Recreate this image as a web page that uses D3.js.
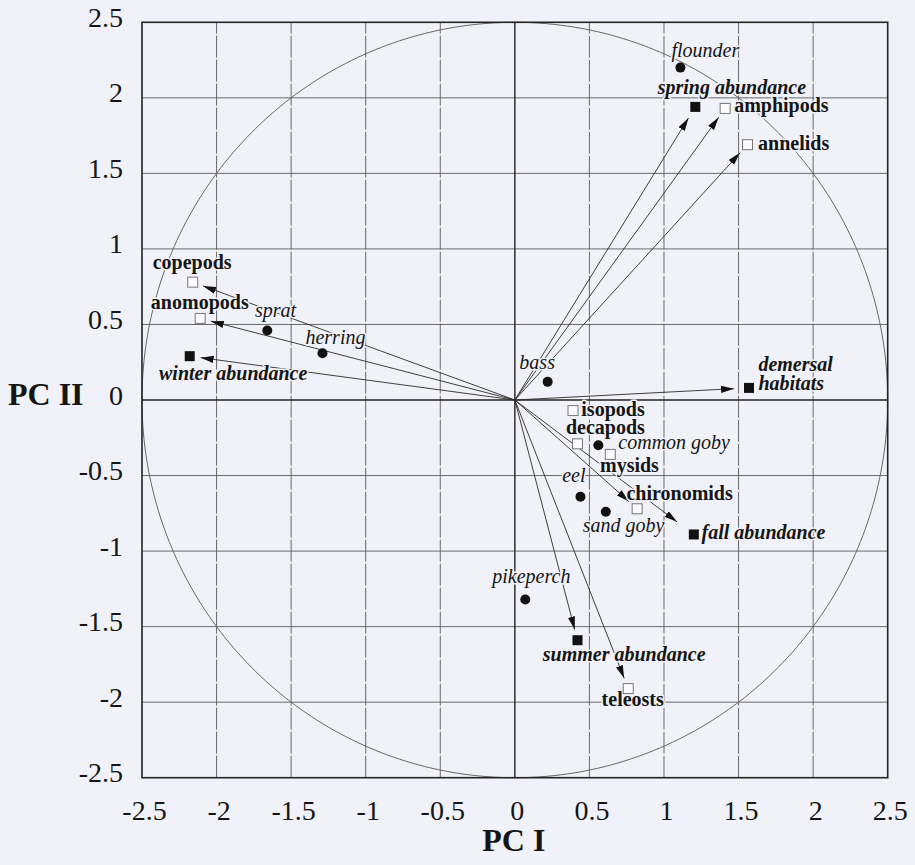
<!DOCTYPE html>
<html>
<head>
<meta charset="utf-8">
<script src="https://cdn.jsdelivr.net/npm/d3@7/dist/d3.min.js"></script>
<style>
  html, body { margin: 0; padding: 0; background: #f1f2f9; }
  svg { display: block; }
  text { font-family: "Liberation Serif", "Times New Roman", serif; fill: #151515; }
</style>
</head>
<body>
<svg id="chart" width="915" height="865"></svg>
<script>
// Variables of the PCA biplot (scores on PC I and PC II)
const names = [
  "copepods", "anomopods", "sprat", "herring", "winter abundance",
  "flounder", "spring abundance", "amphipods", "annelids", "bass",
  "demersal habitats", "isopods", "decapods", "common goby", "mysids",
  "eel", "chironomids", "sand goby", "fall abundance", "pikeperch",
  "summer abundance", "teleosts"
];
const pc1 = [
  -2.16, -2.11, -1.66, -1.29, -2.18,
   1.11,  1.21,  1.41,  1.56,  0.22,
   1.57,  0.39,  0.42,  0.56,  0.64,
   0.44,  0.82,  0.61,  1.20,  0.07,
   0.42,  0.76
];
const pc2 = [
   0.78,  0.54,  0.46,  0.31,  0.29,
   2.20,  1.94,  1.93,  1.69,  0.12,
   0.08, -0.07, -0.29, -0.30, -0.36,
  -0.64, -0.72, -0.74, -0.89, -1.32,
  -1.59, -1.91
];
// fish = species (filled circle), prey = diet item (open square), env = abundance / habitat (filled square)
const kinds = [
  "prey", "prey", "fish", "fish", "env",
  "fish", "env", "prey", "prey", "fish",
  "env", "prey", "prey", "fish", "prey",
  "fish", "prey", "fish", "env", "fish",
  "env", "prey"
];
// Variables drawn as vectors from the origin
const vectors = [
  "copepods", "anomopods", "winter abundance", "spring abundance", "amphipods",
  "annelids", "demersal habitats", "chironomids", "fall abundance",
  "summer abundance", "teleosts"
];
const tickValues = [-2.5, -2, -1.5, -1, -0.5, 0, 0.5, 1, 1.5, 2, 2.5];
const tickLabels = ["-2.5", "-2", "-1.5", "-1", "-0.5", "0", "0.5", "1", "1.5", "2", "2.5"];
const axisTitles = { x: "PC I", y: "PC II" };
const circleRadius = 2.5;

// Label placement (pixel offsets from the marker, baseline of first line)
const labelPlacement = {
  "copepods": [-40, -12.7], "anomopods": [-49.3, -9], "sprat": [-12.3, -13.3],
  "herring": [-17, -9], "winter abundance": [-30.7, 24], "flounder": [-9, -11],
  "spring abundance": [-37.6, -13.4], "amphipods": [9, 3.4], "annelids": [10.6, 5.7],
  "bass": [-28.3, -13], "demersal habitats": [9.4, -17.3], "isopods": [8.3, 5.3],
  "decapods": [-11.5, -9.4], "common goby": [20, 3.3], "mysids": [-10.3, 17.7],
  "eel": [-18.3, -14.3], "chironomids": [-10.7, -9], "sand goby": [-23, 20],
  "fall abundance": [7.7, 4.3], "pikeperch": [-33, -16.3], "summer abundance": [-34.7, 21],
  "teleosts": [-26.6, 17.7]
};
const arrowGap = { "fall abundance": 21, "demersal habitats": 15, "spring abundance": 13 };

const svg = d3.select("#chart");
const bg = "#f1f2f9";

const x = d3.scaleLinear().domain([-2.5, 2.5]).range([142, 887.7]);
const y = d3.scaleLinear().domain([-2.5, 2.5]).range([777.7, 22.3]);

// grid
const inner = tickValues.filter(v => v !== 0 && Math.abs(v) < 2.5);
const grid = svg.append("g");
grid.selectAll("line.h").data(inner).join("line")
  .attr("x1", x(-2.5)).attr("x2", x(2.5))
  .attr("y1", d => y(d)).attr("y2", d => y(d))
  .attr("stroke", "#5a5a5a").attr("stroke-width", 0.9);
grid.selectAll("line.v").data(inner).join("line")
  .attr("y1", y(-2.5)).attr("y2", y(2.5))
  .attr("x1", d => x(d)).attr("x2", d => x(d))
  .attr("stroke", "#5a5a5a").attr("stroke-width", 0.9)
  .attr("stroke-dasharray", "22,2");

// zero axes
svg.append("line").attr("x1", x(-2.5)).attr("x2", x(2.5)).attr("y1", y(0)).attr("y2", y(0))
  .attr("stroke", "#222").attr("stroke-width", 1.4);
svg.append("line").attr("y1", y(-2.5)).attr("y2", y(2.5)).attr("x1", x(0)).attr("x2", x(0))
  .attr("stroke", "#222").attr("stroke-width", 1.4);

// correlation circle
const angles = d3.range(0, 361, 1).map(a => a * Math.PI / 180);
svg.append("path")
  .attr("d", d3.line().x(a => x(circleRadius * Math.cos(a))).y(a => y(circleRadius * Math.sin(a)))(angles))
  .attr("fill", "none").attr("stroke", "#666").attr("stroke-width", 1);

// frame
svg.append("rect").attr("x", x(-2.5)).attr("y", y(2.5))
  .attr("width", x(2.5) - x(-2.5)).attr("height", y(-2.5) - y(2.5))
  .attr("fill", "none").attr("stroke", "#222").attr("stroke-width", 1.6);

// axes with tick labels
const fmt = d => tickLabels[tickValues.indexOf(d)];
const xAxis = svg.append("g").attr("transform", `translate(0,${y(-2.5)})`)
  .call(d3.axisBottom(x).tickValues(tickValues).tickFormat(fmt).tickSize(0).tickPadding(0));
xAxis.select(".domain").remove();
xAxis.selectAll("text").attr("font-size", 28).attr("dy", null).attr("y", 42).attr("dx", 2)
  .style("font-family", "Liberation Serif").attr("fill", "#151515");

const yAxis = svg.append("g").attr("transform", `translate(${x(-2.5)},0)`)
  .call(d3.axisLeft(y).tickValues(tickValues).tickFormat(fmt).tickSize(0).tickPadding(0));
yAxis.select(".domain").remove();
yAxis.selectAll("text").attr("font-size", 28).attr("dy", null).attr("x", -19).attr("y", 4)
  .style("font-family", "Liberation Serif").attr("fill", "#151515");

svg.append("text").attr("x", x(0) - 1).attr("y", 851).attr("text-anchor", "middle")
  .attr("font-size", 32).attr("font-weight", "bold").text(axisTitles.x);
svg.append("text").attr("x", 8).attr("y", 405)
  .attr("font-size", 32).attr("font-weight", "bold").text(axisTitles.y);

// arrowhead
svg.append("defs").append("marker")
  .attr("id", "head").attr("markerUnits", "userSpaceOnUse")
  .attr("viewBox", "0 -4 13 8").attr("refX", 13).attr("refY", 0)
  .attr("markerWidth", 13).attr("markerHeight", 8).attr("orient", "auto")
  .append("path").attr("d", "M0,-3.6L13,0L0,3.6Z").attr("fill", "#111");

const items = names.map((n, i) => ({ name: n, px: pc1[i], py: pc2[i], kind: kinds[i] }));

// vectors from the origin
svg.append("g").selectAll("line").data(items.filter(d => vectors.includes(d.name))).join("line")
  .each(function (d) {
    const x0 = x(0), y0 = y(0), x1 = x(d.px), y1 = y(d.py);
    const len = Math.hypot(x1 - x0, y1 - y0);
    const gap = arrowGap[d.name] || 11;
    const k = (len - gap) / len;
    d3.select(this)
      .attr("x1", x0).attr("y1", y0)
      .attr("x2", x0 + (x1 - x0) * k).attr("y2", y0 + (y1 - y0) * k);
  })
  .attr("stroke", "#2a2a2a").attr("stroke-width", 0.9)
  .attr("marker-end", "url(#head)");

// labels
const labels = svg.append("g");
items.forEach(d => {
  const [dx, dy] = labelPlacement[d.name];
  const t = labels.append("text")
    .attr("x", x(d.px) + dx).attr("y", y(d.py) + dy)
    .attr("font-size", 20)
    .attr("font-weight", d.kind === "fish" ? "normal" : "bold")
    .attr("font-style", d.kind === "prey" ? "normal" : "italic")
    .attr("stroke", bg).attr("stroke-width", 3).attr("paint-order", "stroke")
    .attr("stroke-linejoin", "round");
  if (d.name === "demersal habitats") {
    t.append("tspan").attr("x", x(d.px) + dx).text("demersal");
    t.append("tspan").attr("x", x(d.px) + dx).attr("dy", 19.3).text("habitats");
  } else {
    t.text(d.name);
  }
});

// markers
const marks = svg.append("g");
items.forEach(d => {
  const cx = x(d.px), cy = y(d.py);
  if (d.kind === "fish") {
    marks.append("circle").attr("cx", cx).attr("cy", cy).attr("r", 5).attr("fill", "#111");
  } else if (d.kind === "env") {
    marks.append("rect").attr("x", cx - 5).attr("y", cy - 5).attr("width", 10).attr("height", 10)
      .attr("fill", "#111");
  } else {
    marks.append("rect").attr("x", cx - 5).attr("y", cy - 5).attr("width", 10).attr("height", 10)
      .attr("fill", "#fbfbff").attr("stroke", "#777").attr("stroke-width", 1);
  }
});
</script>
</body>
</html>
